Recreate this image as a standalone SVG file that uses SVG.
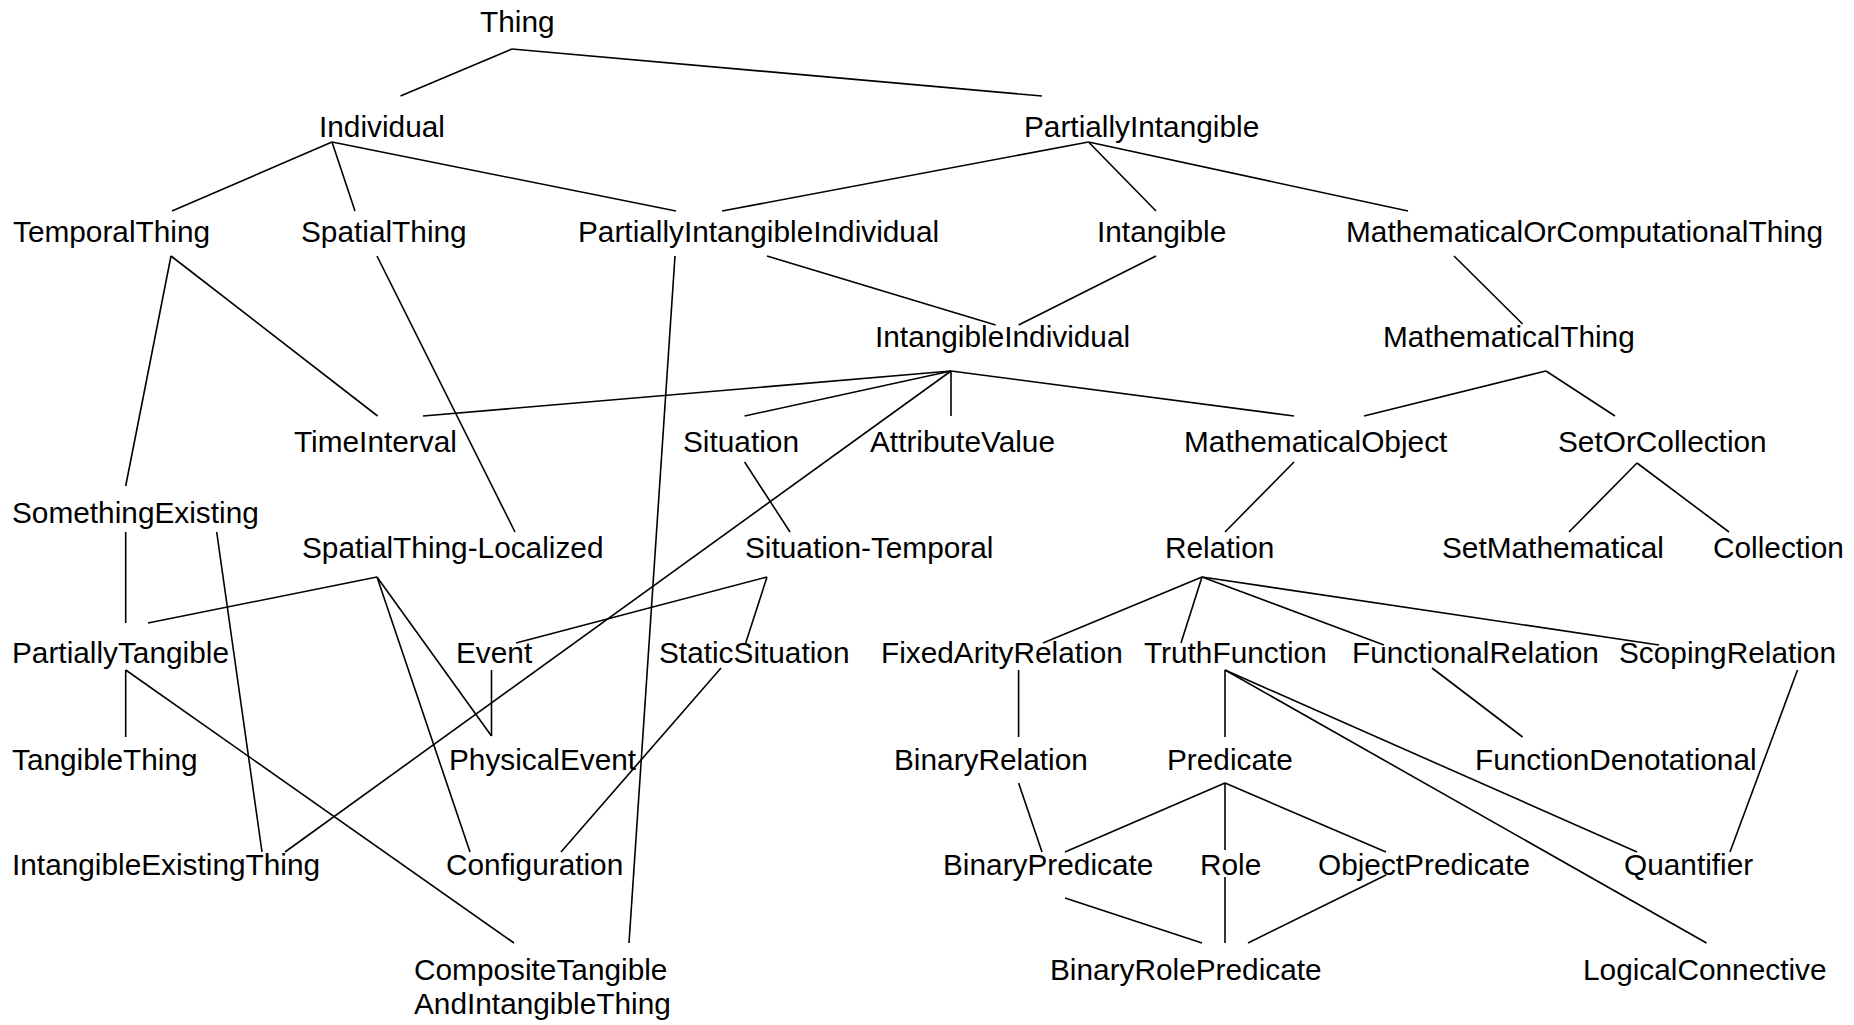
<svg xmlns="http://www.w3.org/2000/svg" width="1854" height="1025" viewBox="0 0 1854 1025">
<style>
text { font-family: "Liberation Sans", Arial, sans-serif; font-size: 29.8px; fill: #000; }
#edges line { stroke: #000; stroke-width: 1.6; }
</style>
<rect width="1854" height="1025" fill="#fff"/>
<g id="edges">
<line x1="512" y1="49" x2="400.5" y2="96"/>
<line x1="512" y1="49" x2="1042" y2="96"/>
<line x1="332" y1="142" x2="172" y2="211"/>
<line x1="332" y1="142" x2="355" y2="211"/>
<line x1="332" y1="142" x2="676" y2="211"/>
<line x1="1088.5" y1="142" x2="722" y2="211"/>
<line x1="1088.5" y1="142" x2="1156" y2="211"/>
<line x1="1088.5" y1="142" x2="1408" y2="211"/>
<line x1="171" y1="256" x2="125.7" y2="486"/>
<line x1="171" y1="256" x2="377.6" y2="416"/>
<line x1="377" y1="256" x2="515" y2="532"/>
<line x1="675" y1="256" x2="629" y2="943"/>
<line x1="767" y1="256" x2="995.6" y2="325"/>
<line x1="1156" y1="256" x2="1018.6" y2="325"/>
<line x1="1454" y1="256" x2="1522.6" y2="324"/>
<line x1="951" y1="371" x2="423" y2="416"/>
<line x1="951" y1="371" x2="744.6" y2="416"/>
<line x1="951" y1="371" x2="951" y2="416"/>
<line x1="951" y1="371" x2="1294" y2="416"/>
<line x1="951" y1="371" x2="285" y2="852"/>
<line x1="1546" y1="371" x2="1364" y2="416"/>
<line x1="1546" y1="371" x2="1615" y2="416"/>
<line x1="744.6" y1="462" x2="790" y2="532"/>
<line x1="1294" y1="462" x2="1225" y2="532"/>
<line x1="1637" y1="463" x2="1569" y2="532"/>
<line x1="1637" y1="463" x2="1729" y2="532"/>
<line x1="125.7" y1="532" x2="125.7" y2="623"/>
<line x1="216.7" y1="532" x2="262" y2="852"/>
<line x1="377" y1="577" x2="148" y2="623"/>
<line x1="377" y1="577" x2="491.5" y2="736"/>
<line x1="377" y1="577" x2="470" y2="852"/>
<line x1="767" y1="577" x2="516" y2="643"/>
<line x1="767" y1="577" x2="745.7" y2="643"/>
<line x1="1202" y1="577" x2="1043" y2="643"/>
<line x1="1202" y1="577" x2="1181" y2="643"/>
<line x1="1202" y1="577" x2="1384" y2="645"/>
<line x1="1202" y1="577" x2="1659" y2="645"/>
<line x1="125.7" y1="670" x2="125.7" y2="737"/>
<line x1="125.7" y1="670" x2="514" y2="943"/>
<line x1="491.5" y1="670" x2="491.5" y2="736"/>
<line x1="721" y1="668" x2="561" y2="852"/>
<line x1="1018.6" y1="670" x2="1018.6" y2="737"/>
<line x1="1225" y1="670" x2="1225" y2="737"/>
<line x1="1225" y1="670" x2="1637" y2="852"/>
<line x1="1225" y1="670" x2="1706.5" y2="943"/>
<line x1="1432" y1="668" x2="1522.6" y2="737"/>
<line x1="1797.5" y1="670" x2="1730" y2="852"/>
<line x1="1018.6" y1="783" x2="1042" y2="852"/>
<line x1="1225" y1="783" x2="1065" y2="852"/>
<line x1="1225" y1="783" x2="1225" y2="850"/>
<line x1="1225" y1="783" x2="1386" y2="852"/>
<line x1="1065" y1="898" x2="1202" y2="943"/>
<line x1="1225" y1="877" x2="1225" y2="943"/>
<line x1="1386" y1="875" x2="1248" y2="943"/>
</g>
<g id="n-Thing"><text x="480" y="32">Thing</text></g>
<g id="n-Individual"><text x="319" y="137">Individual</text></g>
<g id="n-PartiallyIntangible"><text x="1024" y="137">PartiallyIntangible</text></g>
<g id="n-TemporalThing"><text x="13" y="242">TemporalThing</text></g>
<g id="n-SpatialThing"><text x="301" y="242">SpatialThing</text></g>
<g id="n-PartiallyIntangibleIndividual"><text x="578" y="242">PartiallyIntangibleIndividual</text></g>
<g id="n-Intangible"><text x="1097" y="242">Intangible</text></g>
<g id="n-MathematicalOrComputationalThing"><text x="1346" y="242">MathematicalOrComputationalThing</text></g>
<g id="n-IntangibleIndividual"><text x="875" y="347">IntangibleIndividual</text></g>
<g id="n-MathematicalThing"><text x="1383" y="347">MathematicalThing</text></g>
<g id="n-TimeInterval"><text x="294" y="452">TimeInterval</text></g>
<g id="n-Situation"><text x="683" y="452">Situation</text></g>
<g id="n-AttributeValue"><text x="870" y="452">AttributeValue</text></g>
<g id="n-MathematicalObject"><text x="1184" y="452">MathematicalObject</text></g>
<g id="n-SetOrCollection"><text x="1558" y="452">SetOrCollection</text></g>
<g id="n-SomethingExisting"><text x="12" y="523">SomethingExisting</text></g>
<g id="n-SpatialThing-Localized"><text x="302" y="558">SpatialThing-Localized</text></g>
<g id="n-Situation-Temporal"><text x="745" y="558">Situation-Temporal</text></g>
<g id="n-Relation"><text x="1165" y="558">Relation</text></g>
<g id="n-SetMathematical"><text x="1442" y="558">SetMathematical</text></g>
<g id="n-Collection"><text x="1713" y="558">Collection</text></g>
<g id="n-PartiallyTangible"><text x="12" y="663">PartiallyTangible</text></g>
<g id="n-Event"><text x="456" y="663">Event</text></g>
<g id="n-StaticSituation"><text x="659" y="663">StaticSituation</text></g>
<g id="n-FixedArityRelation"><text x="881" y="663">FixedArityRelation</text></g>
<g id="n-TruthFunction"><text x="1144" y="663">TruthFunction</text></g>
<g id="n-FunctionalRelation"><text x="1352" y="663">FunctionalRelation</text></g>
<g id="n-ScopingRelation"><text x="1619" y="663">ScopingRelation</text></g>
<g id="n-TangibleThing"><text x="12" y="770">TangibleThing</text></g>
<g id="n-PhysicalEvent"><text x="449" y="770">PhysicalEvent</text></g>
<g id="n-BinaryRelation"><text x="894" y="770">BinaryRelation</text></g>
<g id="n-Predicate"><text x="1167" y="770">Predicate</text></g>
<g id="n-FunctionDenotational"><text x="1475" y="770">FunctionDenotational</text></g>
<g id="n-IntangibleExistingThing"><text x="12" y="875">IntangibleExistingThing</text></g>
<g id="n-Configuration"><text x="446" y="875">Configuration</text></g>
<g id="n-BinaryPredicate"><text x="943" y="875">BinaryPredicate</text></g>
<g id="n-Role"><text x="1200" y="875">Role</text></g>
<g id="n-ObjectPredicate"><text x="1318" y="875">ObjectPredicate</text></g>
<g id="n-Quantifier"><text x="1624" y="875">Quantifier</text></g>
<g id="n-CompositeTangibleAndIntangibleThing"><text x="414" y="980">CompositeTangible</text><text x="414" y="1014">AndIntangibleThing</text></g>
<g id="n-BinaryRolePredicate"><text x="1050" y="980">BinaryRolePredicate</text></g>
<g id="n-LogicalConnective"><text x="1583" y="980">LogicalConnective</text></g>
</svg>
